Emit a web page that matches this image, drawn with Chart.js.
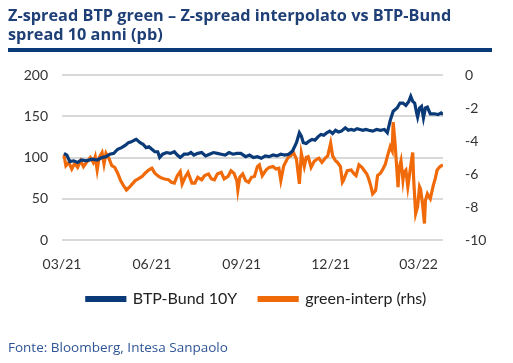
<!DOCTYPE html>
<html>
<head>
<meta charset="utf-8">
<script src="https://cdn.jsdelivr.net/npm/chart.js@4.4.1/dist/chart.umd.min.js"></script>
<style>
    html, body {
        margin: 0;
        padding: 0;
        background: #ffffff;
    }
    #wrap {
        position: relative;
        width: 513px;
        height: 363px;
        overflow: hidden;
    }
    #title {
        position: absolute;
        left: 8px;
        top: 6px;
        width: 484px;
        font-family: "Open Sans", sans-serif;
        font-weight: bold;
        font-size: 16.3px;
        line-height: 19px;
        color: #1f3f77;
        padding-bottom: 4px;
        border-bottom: 4px solid #0b3a78;
    }
    #source {
        position: absolute;
        left: 8px;
        top: 338px;
        font-family: "Open Sans", sans-serif;
        font-size: 13.5px;
        color: #2f5597;
    }
    canvas {
        position: absolute;
        left: 0;
        top: 0;
    }
</style>
</head>
<body>
<div id="wrap">
    <canvas id="spreadChart" width="513" height="363"></canvas>
    <div id="title">Z-spread BTP green – Z-spread interpolato vs BTP-Bund spread 10 anni (pb)</div>
    <div id="source">Fonte: Bloomberg, Intesa Sanpaolo</div>
</div>

<script>

// days counted from 01/03/2021
const tickDays = [0, 92, 184, 275, 365];
const tickLabels = ["03/21", "06/21", "09/21", "12/21", "03/22"];

const seriesNames = ["BTP-Bund 10Y", "green-interp (rhs)"];

const btpDays = [
    2, 5, 8, 12, 16, 20, 25, 31, 36, 41, 45, 49, 53, 57, 61, 65, 68, 71, 74, 76,
    80, 83, 86, 89, 92, 95, 98, 100, 103, 107, 111, 115, 118, 121, 125, 129, 132, 135, 139, 143,
    147, 151, 155, 159, 163, 167, 171, 175, 179, 183, 188, 192, 196, 200, 204, 208, 212, 216, 220, 224,
    228, 232, 236, 240, 243, 245, 247, 250, 253, 256, 259, 262, 265, 268, 271, 274, 277, 280, 283, 286,
    290, 293, 296, 299, 302, 305, 308, 311, 314, 318, 322, 326, 330, 333, 336, 339, 343, 346, 349, 352,
    355, 357, 359, 361, 363, 364, 366, 368, 370, 372, 374, 377, 381, 385, 388, 390
];
const btpValues = [
    105, 103, 95, 96, 94, 97, 96, 98, 97, 100, 101, 104, 105, 110, 112, 115, 118, 119, 121, 122,
    118, 116, 112, 113, 110, 107, 107, 100, 104, 106, 105, 107, 103, 100, 104, 104, 106, 103, 105, 106,
    102, 104, 106, 105, 104, 103, 106, 104, 105, 105, 101, 103, 100, 101, 99, 102, 101, 103, 102, 104,
    103, 104, 108, 118, 130, 126, 118, 117, 120, 122, 121, 125, 128, 127, 130, 132, 129, 133, 131, 132,
    136, 133, 134, 133, 135, 134, 133, 134, 133, 132, 134, 133, 134, 130, 145, 156, 160, 166, 166, 163,
    168, 174, 168, 166, 154, 149, 160, 162, 148, 160, 161, 153, 153, 152, 154, 152
];

const greenDays = [
    2, 4, 7, 10, 13, 16, 19, 22, 25, 29, 32, 34, 36, 38, 41, 43, 45, 48, 51, 54,
    57, 60, 63, 66, 69, 72, 75, 78, 82, 85, 89, 92, 95, 99, 102, 105, 109, 112, 115, 118,
    121, 123, 126, 129, 133, 136, 139, 143, 146, 150, 153, 156, 159, 163, 166, 170, 173, 176, 179, 180,
    182, 185, 188, 191, 194, 197, 200, 202, 205, 209, 212, 216, 219, 222, 224, 227, 230, 232, 234, 237,
    240, 243, 245, 248, 250, 252, 255, 258, 261, 263, 266, 268, 270, 272, 275, 277, 280, 282, 285, 287,
    288, 292, 296, 299, 301, 304, 307, 309, 312, 314, 316, 318, 321, 323, 326, 328, 331, 333, 336, 338,
    339, 341, 344, 345, 347, 349, 350, 352, 354, 357, 359, 360, 362, 364, 366, 367, 369, 371, 372, 374,
    377, 380, 382, 384, 387, 390
];
const greenValues = [
    -4.85, -5.5, -5.3, -5.7, -5.35, -5.6, -5.2, -5.55, -5.3, -5.0, -5.3, -4.95, -5.75, -5.0, -4.7, -5.4, -4.75, -5.05, -5.5, -5.6,
    -5.95, -6.4, -6.7, -6.97, -6.8, -6.6, -6.4, -6.3, -6.15, -5.95, -5.75, -5.65, -5.95, -6.15, -6.25, -6.3, -6.35, -6.5, -6.55, -6.1,
    -5.85, -6.6, -6.2, -5.9, -6.55, -6.55, -6.2, -6.35, -6.1, -6.0, -6.3, -6.35, -6.0, -5.9, -6.3, -6.15, -5.8, -5.95, -6.4, -6.97,
    -6.2, -6.0, -6.4, -6.5, -6.2, -6.15, -5.55, -5.45, -6.1, -5.75, -5.6, -5.55, -5.7, -5.65, -6.4, -5.5, -5.15, -4.95, -4.9, -4.7,
    -5.1, -6.6, -4.75, -5.55, -5.0, -4.95, -5.6, -5.25, -5.1, -5.05, -5.3, -5.15, -5.0, -4.9, -4.13, -4.9, -5.2, -5.3, -5.55, -6.5,
    -6.4, -5.8, -5.76, -6.0, -6.1, -5.45, -5.6, -5.76, -6.0, -6.3, -6.7, -7.2, -7.0, -6.1, -5.95, -5.76, -5.4, -4.95, -4.34, -4.6,
    -2.85, -4.2, -6.8, -5.7, -5.2, -6.36, -5.9, -5.76, -6.77, -5.5, -4.7, -6.36, -8.4, -7.98, -6.77, -6.9, -7.8, -9.0, -7.6, -7.2,
    -7.5, -6.7, -6.3, -5.76, -5.55, -5.45
];

const tickFont = { family: "Lato", size: 14 };

function toPoints(days, values) {
    return days.map((d, i) => ({ x: d, y: values[i] }));
}

const spreadChart = new Chart(document.getElementById("spreadChart"), {

    type: "line",

    data: {
        datasets: [
            {
                label: seriesNames[0],
                data: toPoints(btpDays, btpValues),
                yAxisID: "y",
                borderColor: "#0b3a78",
                backgroundColor: "#0b3a78",
                borderWidth: 3.2,
                pointRadius: 0,
                tension: 0
            },
            {
                label: seriesNames[1],
                data: toPoints(greenDays, greenValues),
                yAxisID: "y2",
                borderColor: "#f06a0a",
                backgroundColor: "#f06a0a",
                borderWidth: 3.2,
                pointRadius: 0,
                tension: 0
            }
        ]
    },

    options: {
        responsive: false,
        animation: false,
        events: [],
        layout: {
            padding: { left: 0, right: 0, top: 75, bottom: 46 }
        },
        plugins: {
            tooltip: { enabled: false },
            legend: {
                position: "bottom",
                labels: {
                    boxWidth: 38,
                    boxHeight: 3,
                    padding: 22,
                    color: "#222222",
                    font: { family: "Lato", size: 16 }
                }
            }
        },
        scales: {
            x: {
                type: "linear",
                min: 0,
                max: 390,
                grid: { display: false },
                border: { display: false },
                afterBuildTicks: scale => {
                    scale.ticks = tickDays.map(v => ({ value: v }));
                },
                afterFit: scale => {
                    scale.height = 29;
                },
                ticks: {
                    color: "#333333",
                    font: tickFont,
                    maxRotation: 0,
                    padding: 8,
                    callback: v => tickLabels[tickDays.indexOf(v)]
                }
            },
            y: {
                position: "left",
                min: 0,
                max: 200,
                afterFit: scale => {
                    scale.width = 62;
                },
                grid: { color: "#d9d9d9", lineWidth: 2, drawTicks: false },
                border: { display: false },
                ticks: {
                    stepSize: 50,
                    color: "#333333",
                    font: tickFont,
                    padding: 14
                }
            },
            y2: {
                position: "right",
                min: -10,
                max: 0,
                afterFit: scale => {
                    scale.width = 70;
                },
                grid: { display: false },
                border: { display: false },
                ticks: {
                    stepSize: 2,
                    color: "#333333",
                    font: tickFont,
                    padding: 14
                }
            }
        }
    }
});

</script>
</body>
</html>
